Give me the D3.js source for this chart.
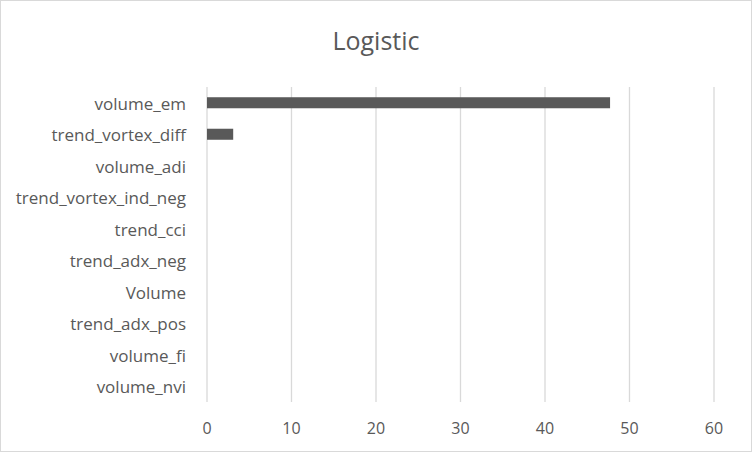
<!DOCTYPE html>
<html><head><meta charset="utf-8">
<script src="https://cdn.jsdelivr.net/npm/d3@7"></script>
<style>body{margin:0;background:#fff}svg{display:block}</style>
</head><body>
<script>
const categories = ["volume_em","trend_vortex_diff","volume_adi","trend_vortex_ind_neg","trend_cci","trend_adx_neg","Volume","trend_adx_pos","volume_fi","volume_nvi"];
const values = [47.7, 3.1, 0, 0, 0, 0, 0, 0, 0, 0];
const xTicks = [0,10,20,30,40,50,60];
const title = "Logistic";

const W = 752, H = 452;
const font = "'Open Sans', sans-serif";
const svg = d3.select("body").append("svg").attr("width", W).attr("height", H);
svg.append("rect").attr("x",0.5).attr("y",0.5).attr("width",W-1).attr("height",H-1)
  .attr("fill","#fff").attr("stroke","#d9d9d9");

const x = d3.scaleLinear().domain([0,60]).range([207,714]);
const y = d3.scaleBand().domain(categories).range([87,402]).paddingInner(0.65).paddingOuter(0.325);

svg.append("text").attr("x",376).attr("y",50).attr("text-anchor","middle")
  .attr("font-family",font).attr("font-size",25).attr("fill","#595959").text(title);

svg.append("g").selectAll("line").data(xTicks).join("line")
  .attr("x1",d=>x(d)).attr("x2",d=>x(d)).attr("y1",87).attr("y2",402)
  .attr("stroke","#d9d9d9").attr("stroke-width",1.3);

svg.append("g").selectAll("rect").data(categories).join("rect")
  .attr("x",x(0)).attr("y",d=>y(d)).attr("height",y.bandwidth())
  .attr("width",(d,i)=>x(values[i])-x(0)).attr("fill","#595959");

svg.append("g").selectAll("text").data(xTicks).join("text")
  .attr("x",d=>x(d)).attr("y",434).attr("text-anchor","middle")
  .attr("font-family",font).attr("font-size",16).attr("fill","#595959").text(d=>d);

svg.append("g").selectAll("text").data(categories).join("text")
  .attr("x",186).attr("y",d=>y(d)+y.bandwidth()/2).attr("dy","0.4em").attr("text-anchor","end")
  .attr("font-family",font).attr("font-size",17).attr("fill","#595959").text(d=>d);
</script>
</body></html>
